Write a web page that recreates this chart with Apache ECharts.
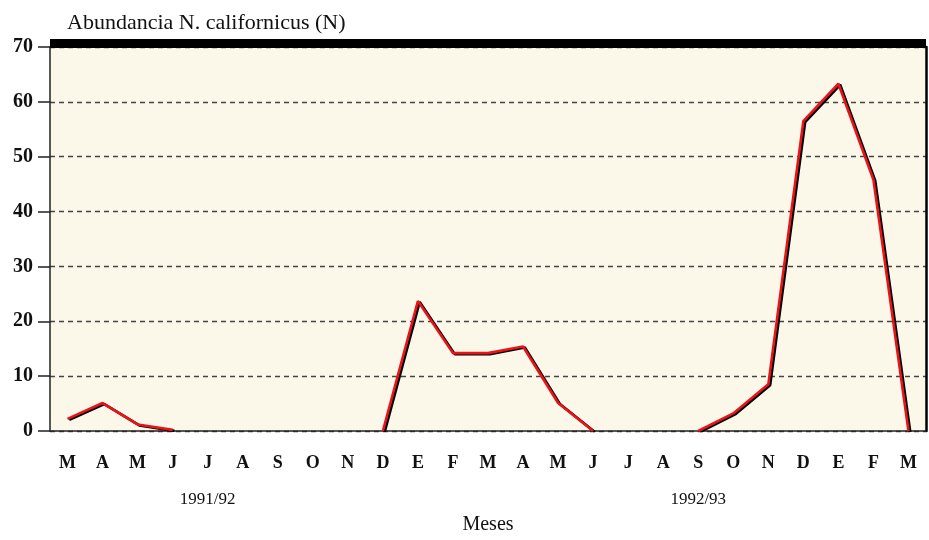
<!DOCTYPE html>
<html><head><meta charset="utf-8">
<script src="https://cdn.jsdelivr.net/npm/echarts@6/dist/echarts.min.js"></script>
<style>html,body{margin:0;padding:0;background:#fff;overflow:hidden}#c{width:929px;height:540px}</style>
</head><body><div id="c"></div>
<script>
const months = ['M','A','M','J','J','A','S','O','N','D','E','F','M','A','M','J','J','A','S','O','N','D','E','F','M'];
const abundance = [2.2, 5.1, 1.2, 0.2, null, null, null, null, null, 0, 23.7, 14.2, 14.2, 15.4, 5.1, 0, null, null, 0, 3.2, 8.5, 56.5, 63.3, 45.8, 0];
const seasonLabels = {4: '1991/92', 18: '1992/93'};
const yTicks = [0, 10, 20, 30, 40, 50, 60, 70];

const serif = '"Liberation Serif", "DejaVu Serif", serif';
const chart = echarts.init(document.getElementById('c'), null, {renderer: 'canvas'});
chart.setOption({
  backgroundColor: '#ffffff',
  animation: false,
  title: {
    text: 'Abundancia N. californicus (N)',
    left: 62, top: 7,
    textStyle: {fontFamily: serif, fontSize: 22, fontWeight: 'normal', color: '#111'}
  },
  grid: {left: 50, right: 3, top: 47, bottom: 95, show: true, backgroundColor: '#fbf8e9', borderWidth: 0},
  xAxis: [
    {
      type: 'category', data: months, boundaryGap: true, position: 'bottom',
      axisLine: {lineStyle: {color: '#222', width: 1.5}},
      axisTick: {alignWithLabel: true, length: 14, lineStyle: {color: '#222', width: 1.5}},
      axisLabel: {fontFamily: serif, fontSize: 18, fontWeight: 'bold', color: '#111', margin: 23, interval: 0},
      splitLine: {show: false},
      name: 'Meses', nameLocation: 'middle', nameGap: 84,
      nameTextStyle: {fontFamily: serif, fontSize: 20, color: '#111'}
    },
    {
      type: 'category', data: months, boundaryGap: true, position: 'bottom', offset: 52,
      axisLine: {show: false}, axisTick: {show: false},
      axisLabel: {
        interval: 0, fontFamily: serif, fontSize: 17, color: '#111',
        formatter: (v, i) => seasonLabels[i] || ''
      }
    },
    {
      type: 'category', data: months, boundaryGap: true, position: 'top', offset: 4,
      axisLine: {show: true, lineStyle: {color: '#000', width: 9, cap: 'butt'}},
      axisTick: {show: false}, axisLabel: {show: false}
    }
  ],
  yAxis: [
    {
      type: 'value', min: 0, max: 70, interval: 10,
      axisLine: {show: true, lineStyle: {color: '#222', width: 1.5}},
      axisTick: {show: true, length: 12, lineStyle: {color: '#222', width: 1.5}},
      axisLabel: {fontFamily: serif, fontSize: 20, fontWeight: 'bold', color: '#111', margin: 17,
        formatter: v => yTicks.includes(v) ? String(v) : ''},
      splitLine: {show: true, lineStyle: {color: '#444', type: [5, 4], width: 1.3}}
    },
    {
      type: 'value', min: 0, max: 70, interval: 10, position: 'right',
      axisLine: {show: true, lineStyle: {color: '#000', width: 2.5}},
      axisTick: {show: false}, axisLabel: {show: false}, splitLine: {show: false}
    }
  ],
  series: [{
    type: 'line', data: abundance, xAxisIndex: 0, yAxisIndex: 0,
    showSymbol: false, connectNulls: false,
    lineStyle: {color: '#e8141a', width: 2.6, shadowColor: '#000', shadowOffsetX: 1.8, shadowOffsetY: 1, shadowBlur: 0}
  }]
});
</script></body></html>
